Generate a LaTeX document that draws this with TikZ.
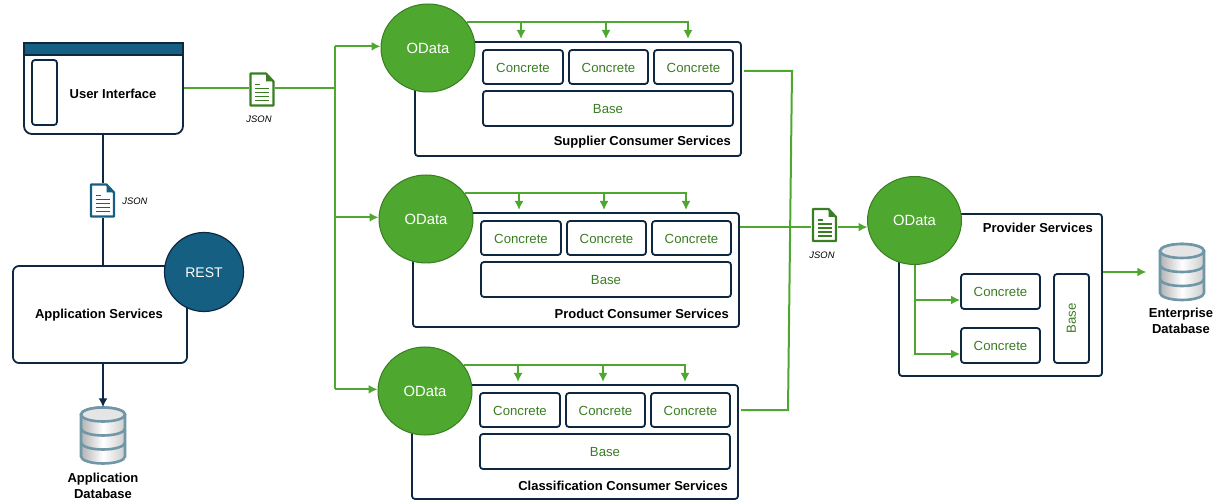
\documentclass[tikz,border=0pt]{standalone}
\usepackage{fontspec}
\setmainfont{Liberation Sans}
\usetikzlibrary{shapes.geometric,arrows.meta}
\definecolor{navy}{HTML}{0E2841}
\definecolor{teal}{HTML}{156082}
\definecolor{leaf}{HTML}{4EA72E}
\definecolor{moss}{HTML}{3B7D23}
\definecolor{steel}{HTML}{6F97A8}
\tikzset{
    svcbox/.style={draw=navy,fill=white,line width=1.8pt,rounded corners=3pt,inner sep=0pt},
    innerbox/.style={svcbox,text=moss,text height=11pt,font=\fontsize{13.2pt}{15pt}\selectfont},
    odata/.style={ellipse,draw=moss,fill=leaf,line width=1pt,minimum width=94pt,minimum height=88pt,inner sep=0pt,text=white,font=\fontsize{14.8pt}{17pt}\selectfont},
    title/.style={font=\bfseries\fontsize{13pt}{16pt}\selectfont,inner sep=0pt,align=center},
    jsonlabel/.style={font=\itshape\fontsize{9.4pt}{11pt}\selectfont,inner sep=0pt},
    flow/.style={leaf,line width=2pt},
    wire/.style={navy,line width=2pt},
    flowtip/.style={-{Latex[length=9pt,width=9pt]}},
    iconspot/.style={inner sep=0pt,minimum width=26pt,minimum height=35pt},
    dbspot/.style={inner sep=0pt,minimum width=47pt,minimum height=56pt},
    pics/docicon/.style={code={
        \draw[#1,line width=2.2pt,line join=round,fill=white] (-11.5,-16) -- (4,-16) -- (11.5,-8) -- (11.5,16) -- (-11.5,16) -- cycle;
        \fill[#1] (4,-16) -- (4,-8) -- (11.5,-8) -- cycle;
        \draw[#1,line width=1.6pt] (-7,-5) -- (-2,-5);
        \foreach \y in {-1,3,7,11} \draw[#1,line width=1.6pt] (-7,\y) -- (7,\y);
    }},
    pics/dbicon/.style={code={
        \draw[steel,line width=2.6pt,left color=gray!60,right color=gray!40,middle color=white] (-22,-21) -- (-22,21) arc[start angle=180,end angle=360,x radius=22,y radius=-7] -- (22,-21) arc[start angle=0,end angle=180,x radius=22,y radius=-7] -- cycle;
        \foreach \y in {-7,7} \draw[steel,line width=2.6pt] (-22,\y) arc[start angle=180,end angle=360,x radius=22,y radius=-7];
        \draw[steel,line width=2.6pt,fill=gray!20] (0,-21) ellipse[x radius=22,y radius=7];
    }},
}
\begin{document}
\begin{tikzpicture}[x=1pt,y=-1pt]
    \useasboundingbox (0,0) rectangle (1218,502);
    % left column
    \node[svcbox,rounded corners=8pt,minimum width=159pt,minimum height=91pt] (ui) at (103.5,88.5) {};
    \node[draw=navy,fill=teal,line width=1.8pt,inner sep=0pt,minimum width=159pt,minimum height=12pt] (uibar) at (103.5,49) {};
    \node[svcbox,minimum width=25pt,minimum height=65pt] (uiside) at (44.5,92.5) {};
    \node[title] (uitext) at (113,94) {User Interface};
    \node[svcbox,rounded corners=6pt,minimum width=174pt,minimum height=97pt] (apps) at (100,314.5) {};
    \node[title] (appstext) at (99,315) {Application Services};
    \node[circle,draw=navy,fill=teal,line width=1.2pt,minimum size=79pt,inner sep=0pt,text=white,text height=12pt,font=\fontsize{14pt}{17pt}\selectfont] (rest) at (204,272) {REST};
    \node[iconspot] (docleft) at (102.5,200.5) {};
    \pic at (docleft) {docicon=teal};
    \node[jsonlabel] (jsonleft) at (135,201) {JSON};
    \node[dbspot] (dbapp) at (103,435.5) {};
    \pic at (dbapp) {dbicon};
    \node[title] (dbapptext) at (103,486) {Application\\Database};
    \draw[wire] (ui.south -| docleft) -- (docleft.north);
    \draw[wire] (docleft.south) -- (docleft.south |- apps.north);
    \draw[wire,flowtip] (apps.south -| dbapp) -- (dbapp.north);
    % consumer services
    \foreach \n/\dx/\dy/\name in {sup/0/0/Supplier Consumer Services,pro/-2/171/Product Consumer Services,cla/-3/343/Classification Consumer Services}{
        \begin{scope}[shift={(\dx,\dy)}]
            \node[svcbox,minimum width=326pt,minimum height=114pt] (box\n) at (578,99) {};
            \node[innerbox,minimum width=80pt,minimum height=34pt] (a\n) at (523,67) {Concrete};
            \node[innerbox,minimum width=79pt,minimum height=34pt] (b\n) at (608.5,67) {Concrete};
            \node[innerbox,minimum width=79pt,minimum height=34pt] (c\n) at (693.5,67) {Concrete};
            \node[innerbox,minimum width=250pt,minimum height=35pt] (base\n) at (608,108.5) {Base};
            \node[title,anchor=east] (name\n) at (731,142.5) {\name};
            \node[odata] (od\n) at (428,48) {OData};
            \coordinate (ta\n) at (521,39);
            \coordinate (tb\n) at (606,39);
            \coordinate (tc\n) at (688,39);
            \draw[flow,flowtip] (od\n.34) -| (tc\n);
            \draw[flow,flowtip] (ta\n |- od\n.34) -- (ta\n);
            \draw[flow,flowtip] (tb\n |- od\n.34) -- (tb\n);
        \end{scope}
    }
    % json from the user interface
    \node[iconspot] (docmid) at (262,89.5) {};
    \pic at (docmid) {docicon=moss};
    \node[jsonlabel] (jsonmid) at (259,119) {JSON};
    \coordinate (trunk) at (335,88);
    \draw[flow] (ui.east |- trunk) -- (docmid.west |- trunk);
    \draw[flow] (docmid.east |- trunk) -- (trunk);
    \draw[flow] (trunk |- odsup.178) -- (trunk |- odcla.178);
    \foreach \n in {sup,pro,cla}
        \draw[flow,flowtip] (trunk |- od\n.178) -- (od\n.178);
    % provider services
    \node[svcbox,minimum width=203pt,minimum height=162pt] (boxprov) at (1000.5,295) {};
    \node[title,anchor=east] (nameprov) at (1093,228) {Provider Services};
    \node[odata] (odprov) at (914.5,220.5) {OData};
    \node[innerbox,minimum width=79pt,minimum height=35pt] (aprov) at (1000.5,291.5) {Concrete};
    \node[innerbox,minimum width=79pt,minimum height=35pt] (bprov) at (1000.5,345.5) {Concrete};
    \node[svcbox,text=moss,font=\fontsize{13.2pt}{15pt}\selectfont,minimum width=35pt,minimum height=89pt] (baseprov) at (1071.5,318.5) {\rotatebox{90}{Base}};
    \draw[flow,flowtip] (odprov.south) |- ([yshift=-8.5pt]aprov.west);
    \draw[flow,flowtip] (odprov.south) |- ([yshift=-8.5pt]bprov.west);
    \node[iconspot] (docright) at (824.5,225) {};
    \pic at (docright) {docicon=moss};
    \node[jsonlabel] (jsonright) at (822,255) {JSON};
    \coordinate (outsup) at (744,71);
    \coordinate (outcla) at (741,410);
    \coordinate (bendtop) at (792,71);
    \coordinate (bendlow) at (788,410);
    \draw[flow] (outsup) -- (bendtop) -- (bendlow) -- (outcla);
    \draw[flow] (boxpro.east |- odprov.188) -- (docright.west |- odprov.188);
    \draw[flow,flowtip] (docright.east |- odprov.188) -- (odprov.188);
    % enterprise database
    \node[dbspot] (dbent) at (1182,272) {};
    \pic at (dbent) {dbicon};
    \node[title] (dbenttext) at (1181,321) {Enterprise\\Database};
    \draw[flow,flowtip] (boxprov.east |- dbent) -- ([xshift=-12pt]dbent.west);
\end{tikzpicture}
\end{document}
